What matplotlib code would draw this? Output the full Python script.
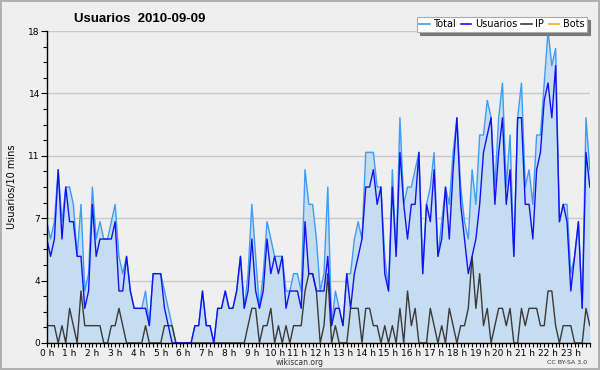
import numpy as np
import matplotlib
matplotlib.use("Agg")
import matplotlib.pyplot as plt
from matplotlib.ticker import FixedLocator, MultipleLocator, NullFormatter

title = "Usuarios  2010-09-09"
ylabel = "Usuarios/10 mins"
series_names = ["Total", "Usuarios", "IP", "Bots"]
hour_labels = [f"{h} h" for h in range(24)]
ytick_vals = [0, 3.6, 7.2, 10.8, 14.4, 18]
ytick_labels = ["0", "4", "7", "11", "14", "18"]

# values per 10-minute slot (144 slots)
total = [7, 6, 7, 10, 7, 9, 9, 8, 5, 8, 3, 4, 9, 6, 7, 6, 6, 7, 8, 5, 4, 5, 3, 2, 2, 2, 3, 1, 4, 4,
         4, 3, 2, 1, 0, 0, 0, 0, 0, 1, 1, 3, 1, 1, 0, 2, 2, 3, 2, 2, 3, 5, 2, 4, 8, 5, 2, 4, 7, 6,
         5, 5, 5, 3, 3, 4, 4, 3, 10, 8, 8, 6, 3, 4, 9, 1, 3, 2, 1, 4, 4, 6, 7, 6, 11, 11, 11, 9, 9, 5,
         3, 10, 5, 13, 8, 9, 9, 10, 11, 4, 8, 9, 11, 5, 7, 9, 8, 11, 13, 9, 7, 6, 10, 8, 12, 12, 14, 13, 9, 13,
         15, 9, 12, 5, 13, 15, 9, 10, 8, 12, 12, 15, 18, 16, 17, 7, 8, 8, 4, 5, 7, 2, 13, 10]
usuarios = [6, 5, 6, 10, 6, 9, 7, 7, 5, 5, 2, 3, 8, 5, 6, 6, 6, 6, 7, 3, 3, 5, 3, 2, 2, 2, 2, 1, 4, 4,
            4, 2, 1, 0, 0, 0, 0, 0, 0, 1, 1, 3, 1, 1, 0, 2, 2, 3, 2, 2, 3, 5, 2, 3, 6, 3, 2, 3, 6, 4,
            5, 4, 5, 2, 3, 3, 3, 2, 7, 4, 4, 3, 3, 3, 5, 1, 2, 2, 1, 4, 2, 4, 5, 6, 9, 9, 10, 8, 9, 4,
            3, 9, 5, 11, 8, 6, 8, 8, 11, 4, 8, 7, 10, 5, 6, 9, 6, 10, 13, 8, 6, 4, 5, 6, 8, 11, 12, 13, 8, 11,
            13, 8, 10, 5, 13, 13, 8, 8, 6, 10, 11, 14, 15, 13, 16, 7, 8, 7, 3, 5, 7, 2, 11, 9]
ip = [1, 1, 1, 0, 1, 0, 2, 1, 0, 3, 1, 1, 1, 1, 1, 0, 0, 1, 1, 2, 1, 0, 0, 0, 0, 0, 1, 0, 0, 0,
      0, 1, 1, 1, 0, 0, 0, 0, 0, 0, 0, 0, 0, 0, 0, 0, 0, 0, 0, 0, 0, 0, 0, 1, 2, 2, 0, 1, 1, 2,
      0, 1, 0, 1, 0, 1, 1, 1, 3, 4, 4, 3, 0, 1, 4, 0, 1, 0, 0, 0, 2, 2, 2, 0, 2, 2, 1, 1, 0, 1,
      0, 1, 0, 2, 0, 3, 1, 2, 0, 0, 0, 2, 1, 0, 1, 0, 2, 1, 0, 1, 1, 2, 5, 2, 4, 1, 2, 0, 1, 2,
      2, 1, 2, 0, 0, 2, 1, 2, 2, 2, 1, 1, 3, 3, 1, 0, 1, 1, 1, 0, 0, 0, 2, 1]
bots = [0] * 144

x = np.arange(len(total)) / 6.0

BG = "#efefef"
fig = plt.figure(figsize=(6.0, 3.7), dpi=100, facecolor=BG, edgecolor="#b0b0b0", linewidth=1.5)
ax = fig.add_axes([0.078, 0.073, 0.905, 0.843])
ax.set_facecolor(BG)

ax.fill_between(x, total, 0, color="#c6ddf1", lw=0, zorder=1)
ax.plot(x, bots, color="#ffa31a", lw=1.0, zorder=1.2)
ax.plot(x, total, color="#3d9cf5", lw=1.0, zorder=2.2, label=series_names[0])
ax.plot(x, ip, color="#3a3a3a", lw=1.0, zorder=2.3, label=series_names[2])
ax.plot(x, usuarios, color="#1212f0", lw=1.0, zorder=2.4, label=series_names[1])

ax.set_xlim(0, x[-1])
ax.set_ylim(0, 18)

ax.yaxis.set_major_locator(FixedLocator(ytick_vals))
ax.set_yticklabels(ytick_labels)
ax.yaxis.set_minor_locator(MultipleLocator(0.9))
ax.xaxis.set_major_locator(FixedLocator(list(range(24))))
ax.set_xticklabels(hour_labels)
ax.xaxis.set_minor_locator(MultipleLocator(1 / 6))
ax.xaxis.set_minor_formatter(NullFormatter())

ax.grid(axis="y", which="major", color="#c9c9c9", lw=1.0, zorder=0.5)
ax.set_axisbelow(True)

for s in ["top", "right"]:
    ax.spines[s].set_visible(False)
for s in ["left", "bottom"]:
    ax.spines[s].set_color("black")
    ax.spines[s].set_linewidth(1.0)
    ax.spines[s].set_zorder(3)

ax.tick_params(axis="both", which="major", length=4, width=0.8, direction="out",
               labelsize=6.5, pad=1, colors="black")
ax.tick_params(axis="both", which="minor", length=3, width=0.8, direction="out")
ax.tick_params(axis="x", which="major", length=3)

ax.set_ylabel(ylabel, fontsize=7, labelpad=8)

fig.text(0.123, 0.94, title, fontsize=9.5, fontweight="bold", ha="left", va="baseline",
         family=["Liberation Sans", "DejaVu Sans"])

handles = [plt.Line2D([], [], color=c, lw=1.2) for c in ["#3d9cf5", "#1212f0", "#3a3a3a", "#ffa31a"]]
leg = fig.legend(handles, series_names, loc="lower right", bbox_to_anchor=(0.978, 0.914),
                 ncol=4, fontsize=7, frameon=True, fancybox=False,
                 shadow={"color": "#777777", "alpha": 1.0},
                 handlelength=1.1, handletextpad=0.35, columnspacing=0.45,
                 borderpad=0.25, borderaxespad=0.0)
leg.get_frame().set_edgecolor("#aaaaaa")
leg.get_frame().set_facecolor("white")
leg.get_frame().set_linewidth(0.8)

fig.text(0.5, 0.019, "wikiscan.org", fontsize=5.5, ha="center", va="center", color="#333333")
fig.text(0.978, 0.019, "CC BY-SA 3.0", fontsize=4.5, ha="right", va="center", color="#333333")

fig.savefig("out.png", dpi=100, facecolor=fig.get_facecolor(), edgecolor=fig.get_edgecolor())
